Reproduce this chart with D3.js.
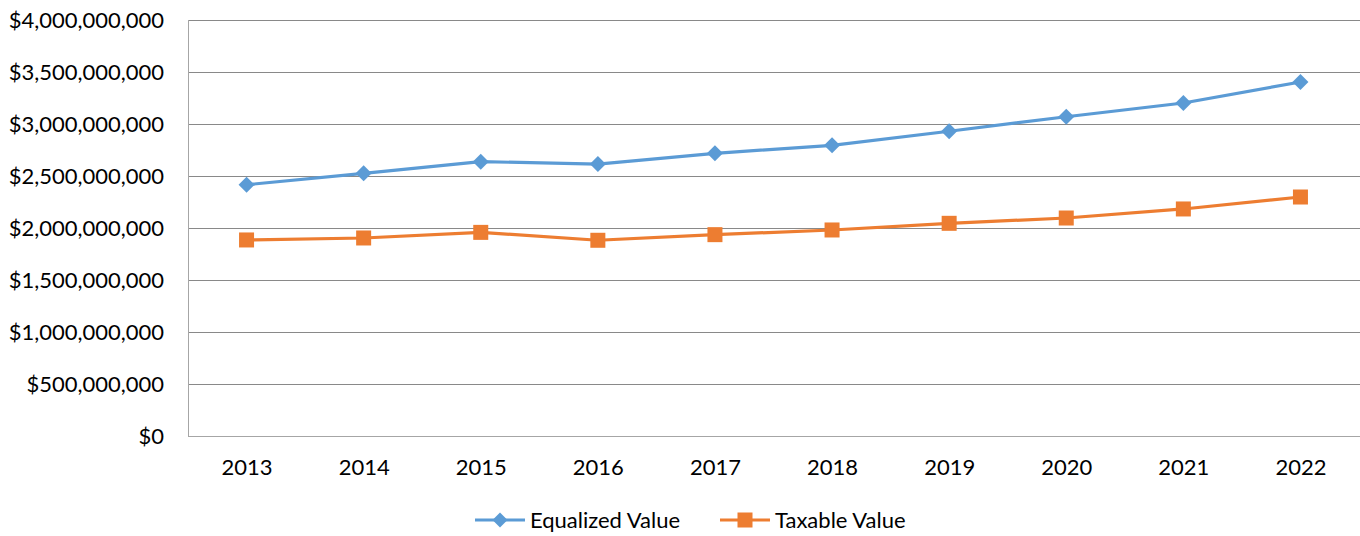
<!DOCTYPE html>
<html>
<head>
<meta charset="utf-8">
<script src="https://cdn.jsdelivr.net/npm/d3@7"></script>
<style>
  html, body { margin: 0; padding: 0; background: #fff; }
  svg { display: block; }
  text { font-family: Lato, "Open Sans", sans-serif; fill: #000; }
</style>
</head>
<body>
<svg id="chart" width="1360" height="536"></svg>
<script>
const years = ["2013","2014","2015","2016","2017","2018","2019","2020","2021","2022"];
const equalizedValue = [2416e6, 2526e6, 2638e6, 2615e6, 2718e6, 2795e6, 2930e6, 3070e6, 3202e6, 3404e6];
const taxableValue   = [1885e6, 1904e6, 1958e6, 1882e6, 1936e6, 1981e6, 2045e6, 2096e6, 2183e6, 2298e6];
const yTicks = [0, 5e8, 1e9, 1.5e9, 2e9, 2.5e9, 3e9, 3.5e9, 4e9];
const seriesNames = ["Equalized Value", "Taxable Value"];
const seriesColors = ["#5B9BD5", "#ED7D31"];

(function () {
const svg = d3.select("#chart");
const pLeft = 188, pRight = 1359, pTop = 20, pBottom = 436;
const fs = 22;

const x = d3.scalePoint().domain(years).range([pLeft, pRight]).padding(0.5);
const y = d3.scaleLinear().domain([0, 4e9]).range([pBottom, pTop]);

const fmt = v => "$" + d3.format(",")(v);

// gridlines
svg.append("g").selectAll("line").data(yTicks.filter(d => d > 0)).join("line")
  .attr("x1", pLeft).attr("x2", pRight + 1)
  .attr("y1", d => Math.round(y(d)) + 0.5).attr("y2", d => Math.round(y(d)) + 0.5)
  .attr("stroke", "#898989").attr("stroke-width", 1);

// axes lines
svg.append("line").attr("x1", pLeft + 0.5).attr("x2", pLeft + 0.5).attr("y1", pTop).attr("y2", pBottom + 0.5)
  .attr("stroke", "#A6A6A6").attr("stroke-width", 1);
svg.append("line").attr("x1", pLeft).attr("x2", pRight + 1).attr("y1", pBottom + 0.5).attr("y2", pBottom + 0.5)
  .attr("stroke", "#A6A6A6").attr("stroke-width", 1);

// y labels via axis
const yAxis = d3.axisLeft(y).tickValues(yTicks).tickFormat(fmt).tickSize(0).tickPadding(0);
const gy = svg.append("g").attr("transform", `translate(${pLeft - 24},0)`).call(yAxis);
gy.select(".domain").remove();
gy.selectAll("text").attr("font-size", fs).attr("font-family", "Lato, sans-serif").attr("fill", "#000").attr("dy", "0.35em");

// x labels via axis
const xAxis = d3.axisBottom(x).tickSize(0).tickPadding(0);
const gx = svg.append("g").attr("transform", `translate(0,${pBottom + 23})`).call(xAxis);
gx.select(".domain").remove();
gx.selectAll("text").attr("font-size", fs).attr("font-family", "Lato, sans-serif").attr("fill", "#000").attr("dy", "0.71em");

const seriesData = [equalizedValue, taxableValue];
const line = d3.line().x((d, i) => x(years[i])).y(d => y(d));

const diamond = s => `M0,${-s}L${s},0L0,${s}L${-s},0Z`;

seriesData.forEach((vals, si) => {
  svg.append("path").datum(vals).attr("d", line)
    .attr("fill", "none").attr("stroke", seriesColors[si]).attr("stroke-width", 3.2)
    .attr("stroke-linejoin", "round");
  const g = svg.append("g");
  if (si === 0) {
    g.selectAll("path").data(vals).join("path")
      .attr("transform", (d, i) => `translate(${x(years[i])},${y(d)})`)
      .attr("d", diamond(8)).attr("fill", seriesColors[si]);
  } else {
    g.selectAll("rect").data(vals).join("rect")
      .attr("x", (d, i) => x(years[i]) - 7.5).attr("y", d => y(d) - 7.5)
      .attr("width", 15).attr("height", 15).attr("fill", seriesColors[si]);
  }
});

// legend
const legendY = 520;
const legendItems = [{x: 475, tx: 530}, {x: 720, tx: 775}];
legendItems.forEach((it, si) => {
  const g = svg.append("g");
  g.append("line").attr("x1", it.x).attr("x2", it.x + 50).attr("y1", legendY).attr("y2", legendY)
    .attr("stroke", seriesColors[si]).attr("stroke-width", 3.2);
  if (si === 0) {
    g.append("path").attr("transform", `translate(${it.x + 25},${legendY})`).attr("d", diamond(7.5)).attr("fill", seriesColors[si]);
  } else {
    g.append("rect").attr("x", it.x + 25 - 7.5).attr("y", legendY - 7.5).attr("width", 15).attr("height", 15).attr("fill", seriesColors[si]);
  }
  g.append("text").attr("x", it.tx).attr("y", legendY).attr("dy", "0.35em")
    .attr("font-size", fs).text(seriesNames[si]);
});
})();
</script>
</body>
</html>
